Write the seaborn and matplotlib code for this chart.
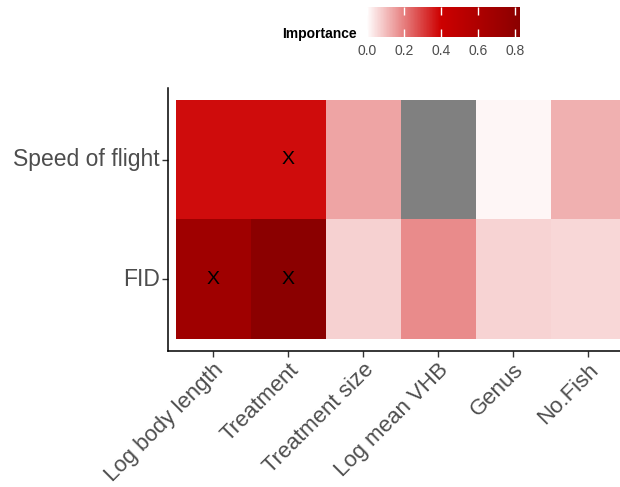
import matplotlib
matplotlib.use("Agg")
import matplotlib.pyplot as plt
import numpy as np
import pandas as pd
import seaborn as sns
from matplotlib.colors import LinearSegmentedColormap, ListedColormap

predictors = ["Log body length", "Treatment", "Treatment size", "Log mean VHB", "Genus", "No.Fish"]
responses = ["Speed of flight", "FID"]
speed_importance = [0.38, 0.38, 0.14, np.nan, 0.01, 0.12]
fid_importance = [0.70, 0.83, 0.07, 0.18, 0.065, 0.06]
speed_marks = ["", "X", "", "", "", ""]
fid_marks = ["X", "X", "", "", "", ""]
cbar_ticks = [0.0, 0.2, 0.4, 0.6, 0.8]

sns.set_theme(style="white")
plt.rcParams["font.family"] = ["Liberation Sans", "DejaVu Sans"]

imp = pd.DataFrame([speed_importance, fid_importance], index=responses, columns=predictors)
marks = np.array([speed_marks, fid_marks])

vmin, vmax = 0.0, 0.83
cmap = LinearSegmentedColormap.from_list(
    "imp", [(0.0, "#FFFCFC"), (0.4 / vmax, "#CD0000"), (1.0, "#8B0000")]
)

fig = plt.figure(figsize=(6.2, 4.87), dpi=100)
ax = fig.add_axes([0.271, 0.2793, 0.75, 0.54])
cax = fig.add_axes([0.592, 0.924, 0.247, 0.0616])

sns.heatmap(
    imp, ax=ax, cmap=cmap, vmin=vmin, vmax=vmax,
    annot=marks, fmt="", annot_kws={"size": 14, "color": "black"},
    cbar_ax=cax, cbar_kws={"orientation": "horizontal", "ticks": cbar_ticks},
)
cbar = ax.collections[0].colorbar
# missing value drawn in grey
sns.heatmap(
    imp.isna().astype(float), mask=~imp.isna(), ax=ax,
    cmap=ListedColormap(["#808080"]), cbar=False,
)

ax.set_xlim(-0.1, 6.1)
ax.set_ylim(2.1, -0.1)
ax.set_xlabel("")
ax.set_ylabel("")
for side in ["top", "right"]:
    ax.spines[side].set_visible(False)
for side in ["left", "bottom"]:
    ax.spines[side].set_visible(True)
    ax.spines[side].set_color("black")
    ax.spines[side].set_linewidth(1.1)

ax.tick_params(axis="both", which="major", length=4, width=1, color="#333333",
               labelsize=16.5, labelcolor="#4D4D4D", left=True, bottom=True, pad=2)
ax.tick_params(axis="x", labelsize=16)
ax.set_yticklabels(responses, rotation=0)
ax.set_xticklabels(predictors, rotation=45, ha="right", va="top", rotation_mode="anchor")

cax.set_axisbelow(False)
cax.tick_params(axis="x", direction="in", length=6, width=1, color="white",
                labelsize=10, labelcolor="#4D4D4D", bottom=True, top=True, pad=5)
cax.set_xticklabels([f"{t:.1f}" for t in cbar_ticks])
cbar.outline.set_visible(False)
fig.text(357 / 620, 1 - 34 / 487, "Importance", ha="right", va="center",
         fontsize=10, fontweight="bold", color="black")

fig.savefig("out.png", dpi=100)
